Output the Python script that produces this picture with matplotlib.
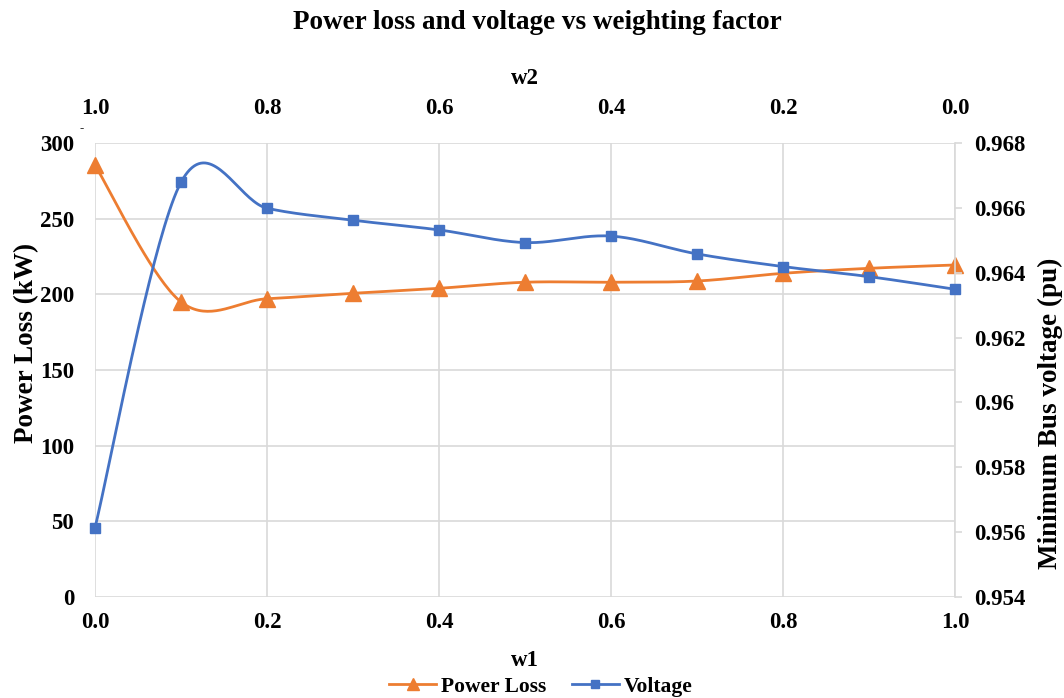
import numpy as np
import matplotlib.pyplot as plt
from matplotlib.lines import Line2D

plt.rcParams['font.family'] = ['Liberation Serif', 'DejaVu Serif']
plt.rcParams['font.weight'] = 'bold'

# data
w1 = [0.0, 0.1, 0.2, 0.3, 0.4, 0.5, 0.6, 0.7, 0.8, 0.9, 1.0]
power_loss = [285.3, 195.0, 197.1, 200.7, 204.0, 208.0, 208.0, 208.8, 213.9, 217.2, 219.4]
voltage = [0.95614, 0.96679, 0.96599, 0.96562, 0.96532, 0.96493, 0.96513, 0.96458, 0.96419, 0.96388, 0.96349]
w2_ticks = [1.0, 0.8, 0.6, 0.4, 0.2, 0.0]
loss_ticks = [0, 50, 100, 150, 200, 250, 300]
volt_ticks = [0.954, 0.956, 0.958, 0.96, 0.962, 0.964, 0.966, 0.968]
volt_labels = ['0.954', '0.956', '0.958', '0.96', '0.962', '0.964', '0.966', '0.968']

ORANGE = '#ED7D31'
BLUE = '#4472C4'
GRID = '#d9d9d9'
FS = 16.5


def smooth(x, y, n=40):
    # excel-style smoothed line (catmull-rom through the points)
    x = np.asarray(x, float)
    y = np.asarray(y, float)
    px = np.concatenate([[x[0]], x, [x[-1]]])
    py = np.concatenate([[y[0]], y, [y[-1]]])
    xs, ys = [], []
    t = np.linspace(0, 1, n)
    for i in range(1, len(px) - 2):
        p0 = np.array([px[i], py[i]])
        p3 = np.array([px[i + 1], py[i + 1]])
        c1 = p0 + (np.array([px[i + 1], py[i + 1]]) - np.array([px[i - 1], py[i - 1]])) / 6
        c2 = p3 - (np.array([px[i + 2], py[i + 2]]) - np.array([px[i], py[i]])) / 6
        b = (np.outer((1 - t) ** 3, p0) + np.outer(3 * (1 - t) ** 2 * t, c1)
             + np.outer(3 * (1 - t) * t ** 2, c2) + np.outer(t ** 3, p3))
        xs.append(b[:, 0])
        ys.append(b[:, 1])
    return np.concatenate(xs), np.concatenate(ys)


fig = plt.figure(figsize=(10.64, 6.98), dpi=100)
ax = fig.add_axes([0.0893, 0.1447, 0.8083, 0.6504])
ax2 = ax.twinx()

sx, sy = smooth(w1, power_loss)
ax.plot(sx, sy, color=ORANGE, lw=2.0, zorder=3, clip_on=False)
ax.plot(w1, power_loss, ls='none', marker='^', ms=12, color=ORANGE, zorder=4, clip_on=False)

vx, vy = smooth(w1, voltage)
ax2.plot(vx, vy, color=BLUE, lw=2.0, zorder=3, clip_on=False)
ax2.plot(w1, voltage, ls='none', marker='s', ms=7.7, color=BLUE, zorder=4, clip_on=False)

ax.set_xlim(0, 1)
ax.set_ylim(0, 300)
ax2.set_ylim(0.954, 0.968)
ax.set_xticks([0, 0.2, 0.4, 0.6, 0.8, 1.0])
ax.set_xticklabels(['%.1f' % v for v in [0, 0.2, 0.4, 0.6, 0.8, 1.0]])
ax.set_yticks(loss_ticks)
ax2.set_yticks(volt_ticks)
ax2.set_yticklabels(volt_labels)

ax.grid(True, color=GRID, lw=1.2)
ax.set_axisbelow(True)
for s in ax.spines.values():
    s.set_visible(False)
for s in ax2.spines.values():
    s.set_visible(False)
ax2.spines['right'].set_visible(True)
ax2.spines['right'].set_color(GRID)
ax2.spines['right'].set_linewidth(1.2)

ax.tick_params(axis='both', length=0, labelsize=FS, colors='black')
ax.tick_params(axis='x', pad=11)
ax.tick_params(axis='y', pad=15)
ax2.tick_params(axis='y', length=5, color=GRID, width=1.2, labelsize=FS, pad=9)

ax.set_xlabel('w1', fontsize=FS, fontweight='bold', labelpad=12)
ax.set_ylabel('Power Loss (kW)', fontsize=19.5, fontweight='bold')
ax.yaxis.set_label_coords(-0.065, 0.56)
ax2.set_ylabel('Minimum Bus voltage (pu)', fontsize=19.5, fontweight='bold')
ax2.yaxis.set_label_coords(1.0965, 0.405)

top = ax.secondary_xaxis('top', functions=(lambda x: 1 - x, lambda x: 1 - x))
top.set_xticks(w2_ticks)
top.set_xticklabels(['%.1f' % v for v in w2_ticks])
top.tick_params(length=0, labelsize=FS, pad=17.5)
top.spines['top'].set_visible(False)
top.set_xlabel('w2', fontsize=FS, fontweight='bold', labelpad=10)

fig.text(0.505, 0.968, 'Power loss and voltage vs weighting factor',
         ha='center', va='center', fontsize=19.5, fontweight='bold')
fig.text(0.077, 0.816, '-', ha='center', va='center', fontsize=9, fontweight='bold')

handles = [Line2D([], [], color=ORANGE, lw=2.0, marker='^', ms=9),
           Line2D([], [], color=BLUE, lw=2.0, marker='s', ms=6)]
fig.legend(handles, ['Power Loss', 'Voltage'], loc='center', bbox_to_anchor=(0.508, 0.016),
           ncol=2, frameon=False, fontsize=15.5, handlelength=2.2, handletextpad=0.2,
           columnspacing=1.2, borderaxespad=0)

fig.savefig('out.png', dpi=100)
